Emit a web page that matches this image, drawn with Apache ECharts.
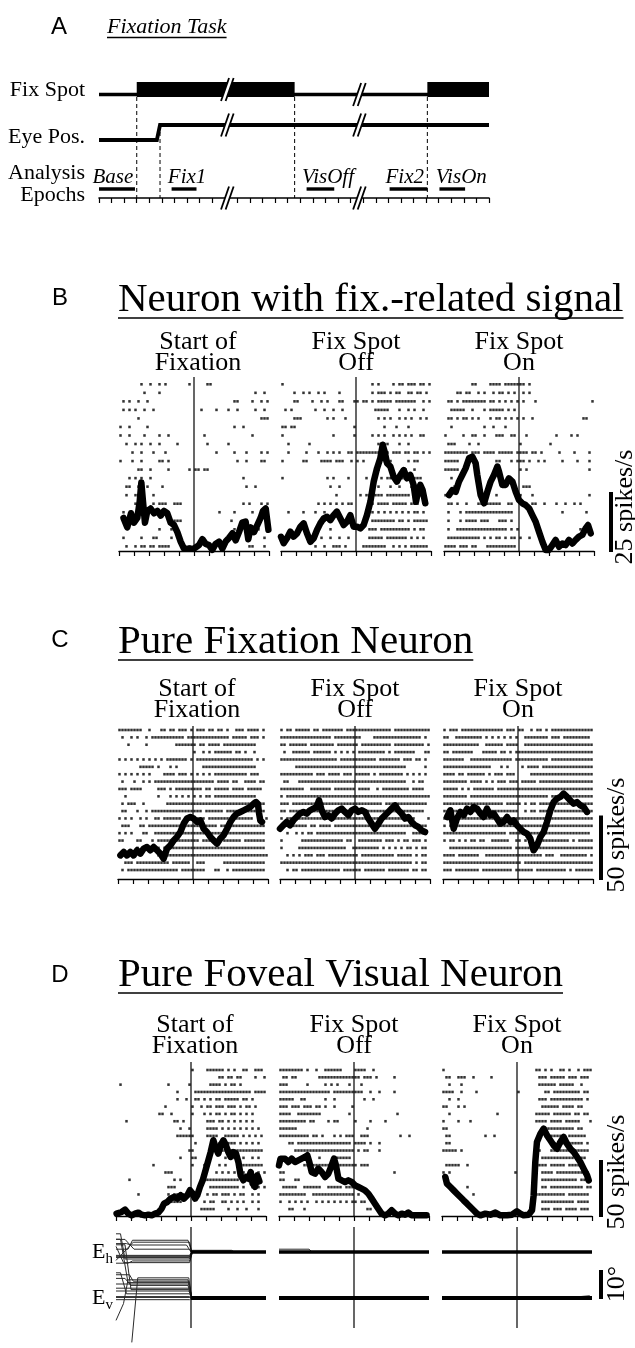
<!DOCTYPE html>
<html><head><meta charset="utf-8">
<script src="https://cdn.jsdelivr.net/npm/echarts@6/dist/echarts.min.js"></script>
<style>html,body{margin:0;padding:0;background:#fff}#c{width:635px;height:1348px}</style>
</head><body><div id="c"></div>
<script>
// ================= DATA =================
// Panel A : schematic of the fixation task (time in tick units)
const taskSpan = [0, 31];
const fixSpotOn = [[3, 15.55], [26.1, 31]];
const eyePos = [[0, 0], [4.6, 0], [4.85, 1], [31, 1]];
const epochNames = ['Base', 'Fix1', 'VisOff', 'Fix2', 'VisOn'];
const epochStart = [0, 5.77, 16.5, 23.1, 27.06];
const epochEnd = [2.86, 7.75, 18.7, 26.1, 29.1];
const epochLabelAt = [1.1, 7.0, 18.2, 24.3, 28.8];
const eventMarks = [3, 4.85, 15.55, 26.1];
const eventSource = ['spot', 'eye', 'spot', 'spot'];
const axisBreaks = [10.2, 20.7];
const rowLabels = ['Fix Spot', 'Eye Pos.', 'Analysis', 'Epochs'];

// Alignment titles
const alignTitles = ['Start of\nFixation', 'Fix Spot\nOff', 'Fix Spot\nOn'];
const sectionTitles = ['Neuron with fix.-related signal', 'Pure Fixation Neuron', 'Pure Foveal Visual Neuron'];
const sectionLetters = ['B', 'C', 'D'];
const rateScale = [25, 50, 50];      // spikes/s scale bars
const eyeScale = 10;                 // degrees
const timeTicks = [-500, 500, 100];  // ms: min, max, step

// Rasters: one string per trial, each char = 20 ms bin from -500 to +500 ms ('x' = spike)
const rasterB1 = [
".......x.. x..x.x.... ...x.....x x......... ..........",
"........x. ...x...... .......... .......... .....x..x.",
".x.x..x..x .......... .......... ........xx ....x..x.x",
".x.x.x..x. .x........ .......x.. ..x...x..x .....x..x.",
"......x... .......... .......... .......... .......xxx",
"x..x.....x .......... .......... ........x. .x........",
"x..x....x. ...x..x... ........x. .......... ....x.....",
"..x..x.x.. x..x.....x .........x ......x... ..........",
"....x..x.. .x...x.... .......... ..x.....x. ..x....x.x",
"x...x..x.. ...xx.x... .......... .........x ..x....xx.",
"......xx.. x.....x... ...x.xx.xx .......... ..........",
"...x.x.x.. x......... .......... .......... .x........",
"..xx..x..x ....x..... .......... .......... ..x..x....",
"..x..x.... .x........ .......... .......... ..........",
".....x.x.. .x.xxx..xx x......... .......... .x.x...x.x",
".x........ .......... .......... ...x....x. ....x....x",
".x.x...... ........xx x......... .......x.. ..........",
".......... ...x...x.. .......... ........x. ......x...",
".x.....x.. .xx....x.. .......... .......xx. ...x....x.",
"..x..x.xx. xx.xxxx... ...x..x... .......... ...xx...x."];
const rasterB2 = [
"x......... .......... .......... x.x....x.x x.xxx.xx.x",
"....x..x.x ..x.x....x .......... x.xxx.x.xx ..xx.xx.x.",
"....xx.... x..x.x...x x...xx.xx. x.xxxxx.xx xxxxx..x.x",
".x.x...... .x..x..x.. x......... .xxxxx...x ..x.x..x..",
"....xxx... .....x.x.. .x........ ..x.x.x..x .x.x..x.x.",
"xx.xx..... .......... ....x..... ....x...x. ..x.......",
"x......... .......x.. ....x..... x.x.x..x.x .x.x..xx..",
"..x......x .......... .......... ..xxxx...x ..x.......",
"..x.....x. ..x..x.x.x ..xx.xxxxx xxxxxx.xxx .xx.xx.x.x",
"x......xx. ...xxxx.xx x..x.x.x.. ....x.x... ..x.xx....",
".......... .......... .......... ..x....... .x..x.....",
"x......... .....x.x.. ..x.....x. ...x.xx.xx xxxxxxx...",
".......... ......x..x .......... ..x...x..x ...x.x....",
".......... ........x. ......x.xx xxxx.xxxxx xxx.xxx...",
".......... ..x.x.x.x. x.xx...... x.xxxx.xxx xx.xxx....",
"..x....x.. .x..x..... .......... x.x.x.x.x. x.x.xx.x..",
".......... ....x.x... .......... xxxxxxxx.x x.x.xxxxx.",
".......... ......x... ......x..x xx.xxxxxxx xxx.x.xx..",
".......... ...x..x..x ..x......x xxxx.xxxxx xx.x.x.x..",
".......... .x..x..xxx .x.....xxx xxxxx..x.x .x.xxxxxx."];
const rasterB3 = [
".........x x....xxxx. xxxxxxx.x. .......... ..........",
"....xx.xx. .x.x..x.xx .x.x..x.x. .......... ..........",
".xx.x.xxxx xxxx.xx.x. x.x.x.x... x......... .........x",
"..xxxxx..x ...x.xxxxx .x.x...... .......... ..........",
".xx.x.xx.x .x...x.xx. x.x.x.x..x .......... ......xx..",
"..x....... ...x..x... x......... .......... ..........",
"x.....x..x x..x...xxx ..xx...x.. .......x.. ..x.x.....",
".xxx....x. .x........ .....x.... .....x.... ..........",
"xxxxxxxx.x xx.xxxx.xx xxx.xxxx.x x.x.....x. ...x....x.",
"xxxxx..... .......xx. ..x.xxx.x. .x.x.....x ....x...x.",
"xxxxx..... ........x. .....x.x.. .......... ........x.",
"..x....... ........x. .......... .......... ..........",
"...x...... .......... ......xxx. .......... ..........",
"x......... .......x.. .....x...x .......... ........x.",
".xx.x..x.. .xxxxxxxx. .xx......x x..x...x.. x..x.x....",
".x...x.xxx xxxxxxxxxx xxx....... .........x .......x..",
".x...x.xxx x.xxx...xx x.x....... .......... ..........",
".x..xxxxxx xxxxxxxxxx x.x.x..... .......... .....x....",
".xxxxxxxxx xx.x.x.xx. x.xx.x..x. .......... ..........",
"xxxx.xxx.x x...xxxxxx xxxx...... .......... .........."];
const rasterC1 = [
"xxxxxxxx.. x...xx.xx. xxx.x.xxx. xx.xx.x..x xx.xxxx.x.",
".x..x.x..x .xxxxxxxxx xx.xxxxxxx xxxxxxx.xx xxx.xxx.x.",
"...x.....x .........x xxxxxx.xx. xxxx.xxxxx xxxxxx....",
".......... .......... .....x..x. x.xxxxxx.x x.x..x....",
"x.x.x.x.x. x.x.x.xxxx xxx.x.xxxx xxxxxxxxxx xxxxx.x.x.",
".......xxx xx.x...x.x ........xx xxxxxxxxxx xxxxxx....",
"x.x.x.x.x. x....xxxx. xxx.x.x.x. x.xxxxxxxx xxx.xxx...",
".x...x..x. x.xxxxxxxx xxxxxxxxxx xx.xxxx.xx ..xxxx.xx.",
"xxx.xxxx.. ...xxx.x.x xxxxxxxx.x x.xxxxx.xx xx.xxxxx..",
"..x....... ...x...x.x .x.x.x.x.x x.xxxxxxxx xxxxxx....",
".x.xxx..x. ......xxxx xxxxxxxxxx xxxxxxxxxx xxxxxxxxx.",
".xx...x..x .xxxxxxxxx xxxxxxxx.x xxxxx.xxxx xxxxxxxxx.",
"x.x.x..x.x ..xx.xxxxx x.xxxxxxx. xxxxxxxxxx xxxxx..x.x",
".xxx...xx. xxxxxxxxxx xxxxxxxxxx xxx.xxxxxx xxxxxxxxx.",
"x.x.x...xx ..xxxxxxxx xxxxxxxxxx xxxxxxxxxx xxxxxxxxx.",
"xx....xx.. .x.xxxxxxx xxxxxxx.xx xxxx.xxxxx x.xxxxxxx.",
"......x..x x..x.xxxxx xxxxxxxxxx xxxxxxxxxx xxxxxxxxx.",
".......... ...x..xxxx xxxxxxxxxx xxxxxxxxxx xxxxxxxxxx",
"..xxx.xxxx xxxxxxx.xx xxxx..xxx. .....xxxxx xxxxxxxxx.",
".x.xxxxxxx xxxxxxxxxx .xxxxxxxx. ..xx..x.xx xxxxxxxxx."];
const rasterC2 = [
"x.xx.xxxxx .xx.xxxxxx x.xxxxxxxx xxxxxxx.xx xxxxxxxxxx",
"xxxxxxxxxx xxxxxxx.xx xxxxxxx... .xxxxxxxxx xxxxxxx.x.",
"xx.xxxxxx. xxxxxxxx.x xxxxxx.xxx xxxxxxx.xx xxxxxxxx.x",
".x..xxxxxx .xxxxxx.x. x.x.x.xxxx xxxxx.x.xx xxxxx...xx",
"xxxxxxxxxx xxxxxxxxx. xxxxxxxxxx xx.xxxxxxx .xxx.xx.x.",
".....xxxxx xxxxxxxxxx xxxxxxxxxx xxxxxxxxxx xx......x.",
"xxxxxxxxxx x.xxx.xxxx .xxx.xxxxx .x.xxxxxxx x.x.x.x.x.",
".xx...xxxx xxxxxxxxxx xxxxxxxxxx xxxxxxxxxx xx..x.xx..",
"xxxxxxxx.. xxxxxxx.xx xxxxx.xxxx ..x.xxxxxx xxx.xxxx..",
"x.xxxxxxxx xxxxxxxxxx xxxxxxxxxx xxxxxxxxxx xxxxxxxxxx",
"xxx.xxxxxx xxxxxxxxxx xxxxxxxxxx xxxx.xxxxx xxxxxxxxx.",
"xx.xxxxxxx xxxxxxxxxx xxx.xxxxxx xxxxxxxxxx xxxxxxxx..",
"x.xxxxxxxx xxxxxxxxxx xxxxxxxxxx xxxxxxxxxx xxxxx....x",
".x.xxxxxx. xx.xxxx.xx xxxxxxxxxx xxxxxxxxxx xxxxxxxxx.",
"..x..x.x.x x.xxxxxxxx xxxxxxxxxx xxxxxxxxxx xx..xxxxx.",
"x......xxx xxxxxxxxxx x.xx..xxxx xxxx.xxx.x .xx.xxx.x.",
"x.....xxxx xxxxxxxxxx xx..xxxxxx xxx.x.x.x. x.xx.x.xx.",
"..x.x.x.xx x.xxx.xxxx xxxxxx.xxx xxxxxxxx.x xxxx.x.xx.",
"xxxxxxxxxx xxxxxxxxxx xxxxxxxxxx xxxxxxxxxx xxxx.x.xx.",
"..x.xx.xxx xxxxxxxxxx .xxxxxx.xx xxxxx.xxxx xxx.xx.xx."];
const rasterC3 = [
"x.xxx.xxxx xxxxxxxxxx .xxx.xx..x .xx.x.xxxx xxxxxxxxxx",
"xx..xxxxxx xxx.x.x.x. x.x.x..xxx xxxxx.xxx. xxxxxxxxx.",
"xxxxxxxxxx xx..xxxxxx .xxxx..xxx xxxxxxxxxx xxxxxxxxxx",
"xx.xxxxxxx ...xxxxx.x x.x.xxxxxx xxxxxxxxxx xxxxxxxxxx",
"xxxxxxx..x xxxxxxxxxx xxx.xxxxxx xxxxx.xxxx xxxxxxxxxx",
"xxxxxxxxxx xxxxxx...x .x....x.xx xx.xxxxxxx xxxxxxxxxx",
"xxxx.xx.xx xxxx.x.xxx .xxx.....x xxxxxxxxxx xxxxxxxxxx",
"xxxxxxxx.x xxx.x.x.xx x.xxx.xxxx x.xxxxxxxx xxxxxxxxxx",
"xxxxx.x.x. xxxxxxx.xx xxxxxxxxxx xxxxxxxxxx xxxxxxxxxx",
"xxxxxxxx.x xxxxxxxxxx xxxxxxxxxx xxxxx.xx.x xxxxxxxxxx",
"xxxxxxxxxx xxxxxxxxxx .xxxxx.x.x x.xxxx.xxx xxxxxxxxxx",
"xxxxxxxxx. xxxxxxxxxx xxxxx..x.x x.xxxx.xxx xxxxxxxxxx",
"xxx.xxxxxx xxxxxxxxxx xxxxxxxxxx xxxxxxxxxx xxxxxxxxxx",
"x.xxxxxxxx xxxxxxxxxx xxxxxxxxxx xxxx.xxxxx xxxxxxxxxx",
"xxxxxxxxxx xxxxxxxxxx x.xxxxxxxx xxxxxxxxxx xxxxxxxxx.",
"x.xx.x.x.x x.xx..xxxx xx..xx.x.. .xxxxxxxxx xx.x.xxxxx",
"..xxxxxxxx xxxxxxxxxx xxx.xxxxxx ..xxxxxxxx xxxxxxxxxx",
"xxxx.xxxxx xx..xxxxxx xxxxxxxxxx xxx.xxx..x xxxxxxxx.x",
"xxxxxxxxxx xxxxxxxxxx xxxxxx.xxx xxxxxxxxxx xxxxxxxxxx",
"xxx.xxxxxx xx.xxxxxxx xxx.xxxxxx .xxxxxxxxx x.x.xxxxxx"];
const rasterD1 = [
".......... .......... .....x.... xxxxxx.x.x ..xx..xxx.",
".......... .......... .......... ....xx.xx. xx....x..x",
".x........ .......x.. ....x..... .xxxx.x.xx .x........",
".......... .......... x.....xxxx xxxxxxxxxx xxxxx.xxxx",
".......... .......... x..x..xx.x .x.xx.xxxx x.xx.x....",
".......... ......x... .....x..x. xx.xxx.xxx .x.xx.x...",
".......... ....xx..x. .....x...x .x.xx.x.xx .x.x.x....",
"...x...... .........x x.x....... xxx.xx.x.x .x.x.x....",
".......... .......... .x..x..... xxxx.x.x.x .x.x.x.x..",
".......... .......... xxxxxx.... xxxx..xxxx x.x.x.x.x.",
".......... .......... ......x... ....xx.xxx .x.x.x.x..",
".......... .......... ....xx.... .....xxxxx xxxxxxxxx.",
".......... .......... .x...xx... .x....x.xx ..x..x.x..",
".......... ..x....... .....x...x ....x.x... xxxxxxxxx.",
".......... ......xxx. .........x ...x.x.x.x .xx..x.x.x",
"....x..... .........x .x........ xxxxxxxxxx x......x..",
".......... .......xxx .......... .xxxxxxxxx x.x..x.x.x",
".......x.. .......x.x xxx....... x.xx.xxx.x .xx..x.x..",
".......... ......xxxx xx.......x .xx..xx.x. x.x..x.x..",
".......... .......... ........xx xxx....x.. x..x...x.."];
const rasterD2 = [
"xxxxxxxx.x ..x..xxxxx x....xxxx. .x........ ..........",
".xx.xx.... ...xxxxxxx xxxxxxx.xx x.x.....x. ..........",
"xxx......x .....x.x.x ...x...x.. .......... ..........",
"xxxxxxxxxx xxxxxxx.xx xxxxxxxx.. x..x....x. ..........",
"xxxxx..xx. .....x..x. ........x. .x........ ..........",
"xxx.xxx.xx x.xx.x..x. ....x..... .......... ..........",
"xxxx..xxxx xxxx...... ...x...... .........x ..........",
"xxxxxxxxx. xx....x.xx .....x.... x....x.... ..........",
"xxxxxx.... .......... .........x .......... ..........",
"xxxxxxxxxx .xx.x...x. x.xxx..xxx .......... x..x......",
"...xx.xxxx xxxxxxxxxx xxxx.xxxx. x..x...... ..........",
".....xxxxx xxxxxxxxxx xxxxx.x.xx ...x...... ..........",
"xx........ ...x.....x xxxx...... .......... ..........",
"........xx xxxxxxxxxx xxxxxx.xxx .......... ..........",
"xx........ .......... .......... ........x. ..........",
"xx...xx... .........x xx........ .......... ..........",
".xxxxx..xx xxxx..xxxx x.xxx..... .......... ..........",
"xxxxxxxxx. .xxxxxxxxx xxxxx.x... .......... ..........",
"x..x.x.x.x ..x.x.x.x. x.x.xx.xx. .......... ..........",
"...xx...x. .......... .........x x......... .........."];
const rasterD3 = [
"x......... .......... .......... .xx.x.x..x x.x..x.xxx",
".xx..xxx.. x.....x... .......... ..xxx.xxxx x.xxx.xxx.",
"..x...x... .......... .......... ..xxxxxx.x xxxx..x...",
"xxxx..x... .x........ .....x.... ....xx.xxx xxxxxx.xx.",
"..x..x.... .......... .......... ..xxx.xxxx xxxxxxx.x.",
"xx...x.x.. .......... .......... ...xxxxxx. xxxx.xx...",
"..x....... ........x. .......... .xxxxx.xxx xxx.xx.xx.",
"x....x...x .......... .......... .xxxx.xxxx .xxxxx...x",
"xx........ .......... .......... ....xxxxxx xxxx.xx...",
".xx....... ....x..x.. .......... ......xxxx x.xxxxxx..",
".xx....... .......... .......... ......xx.x xxxxxxx.x.",
"xxxxx.x... .......... .......... ..x...xxxx xxx.xxxxx.",
".......... .......... .......... ...xxxxxxx xxxx.xxx..",
".xxxxx..x. .......... .......... .xxxx.xxxx x.xxxxx...",
"x.x....... .......... ....x..... ...xxxx.xx xxxxxxxxx.",
".......... .......... .......... ...xxxxxxx xxxxx.xxx.",
"........x. .......... .......... ...xx.xxxx xxxxxxx.xx",
".......... x......... .......... .xxxxxxxxx x.xxxxxxx.",
".......... .......... .......... ...xxxxxxx xxxx.xxxx.",
".......... .......... .......... ...xxx.xxx .xxxx.xxx."];

// Spike density (ms, spikes/s)
const rateB1 = [[-470,14],[-445,10],[-420,16],[-400,12],[-378,14],[-362,21],[-351,29],[-340,21],[-327,12],[-311,17],[-289,18],[-267,16],[-244,17],[-222,15],[-200,17],[-178,16],[-156,12],[-133,11],[-111,8],[-89,4],[-67,1],[-33,1],[0,1],[33,2.5],[56,5],[78,3],[100,2.5],[122,0.5],[144,3],[167,4],[189,1],[211,4],[233,5.5],[256,7.5],[278,4.5],[300,8],[322,12],[344,12.5],[362,5],[378,10],[400,8],[422,11],[444,14],[460,17],[478,18],[496,9]];
const rateB2 = [[-500,6],[-482,3.3],[-460,5.4],[-438,8.2],[-416,6.1],[-393,7.5],[-371,10.3],[-349,11.7],[-327,7.5],[-304,3.9],[-282,5.4],[-260,8.9],[-238,11.7],[-216,13.8],[-193,14.5],[-171,13.1],[-149,15.2],[-127,16.7],[-104,13.8],[-82,11],[-60,12.4],[-38,15.2],[-16,10.3],[7,10.3],[29,9.6],[51,11],[73,15.2],[96,20.9],[118,29.4],[140,35],[162,39.3],[178,45],[191,42.1],[207,37.2],[229,35.8],[251,31.5],[273,29.4],[296,32.2],[318,34.3],[340,30.8],[362,32.2],[384,28],[400,20.9],[413,25.1],[429,28],[444,25.8],[462,20.2]];
const rateB3 = [[-467,23.7],[-444,25.8],[-422,25.1],[-400,29.4],[-378,32.2],[-356,35],[-333,39.3],[-311,40],[-289,37.2],[-278,32.2],[-256,23.7],[-233,20.2],[-211,25.1],[-189,29.4],[-167,32.2],[-144,35.8],[-133,33.6],[-111,28],[-89,28],[-67,30.8],[-44,29.4],[-22,25.1],[0,21.6],[22,20.2],[44,19.5],[67,18.1],[89,15.2],[111,12.4],[133,8.2],[156,3.9],[178,0.4],[200,0.4],[222,2.5],[244,4.7],[267,1.8],[289,3.2],[311,2.5],[333,4.7],[356,3.2],[378,4.7],[400,6.1],[422,6.8],[444,9.6],[460,11],[478,7.5]];
const rateC1 = [[-484,18.6],[-462,21.3],[-440,18.6],[-418,21.3],[-396,18.6],[-373,22.6],[-351,20],[-329,23.9],[-307,25.2],[-284,22.6],[-262,25.2],[-240,22.6],[-218,20],[-196,16],[-173,23.9],[-151,26.5],[-129,30.4],[-107,33.1],[-84,37],[-62,43.6],[-40,47.6],[-18,48.8],[4,47.6],[27,44.9],[49,46.2],[71,39.6],[93,37],[116,33.1],[138,30.4],[160,27.8],[182,31.8],[204,34.4],[227,39.6],[249,44.9],[271,48.8],[293,51.5],[316,52.8],[338,54.1],[360,55.4],[382,56.7],[404,59.3],[420,60.6],[433,59],[440,52],[449,46],[460,44.9]];
const rateC2 = [[-500,39.6],[-478,42.3],[-456,44.9],[-433,42.3],[-411,46.2],[-389,48.8],[-367,51.5],[-344,52.8],[-322,51.5],[-300,54.1],[-278,55.4],[-256,56.7],[-240,61.9],[-222,54.1],[-200,48.8],[-178,50.2],[-156,47.6],[-133,51.5],[-111,54.1],[-89,55.4],[-67,52.8],[-44,50.2],[-22,54.1],[0,55.4],[22,52.8],[44,54.1],[67,52.8],[89,47.6],[111,43.6],[133,39.6],[156,43.6],[178,47.6],[200,50.2],[222,52.8],[244,55.4],[267,58],[289,54.1],[311,51.5],[333,47.6],[356,48.8],[378,44.9],[400,42.3],[422,41],[444,38.3],[467,37]];
const rateC3 = [[-473,48.8],[-451,54.1],[-429,39.6],[-407,47.6],[-384,52.8],[-362,50.2],[-340,55.4],[-318,52.8],[-296,56.7],[-273,55.4],[-251,51.5],[-229,48.8],[-207,55.4],[-184,50.2],[-162,51.5],[-140,47.6],[-118,43.6],[-96,44.9],[-73,48.8],[-51,44.9],[-29,46.2],[-7,42.3],[16,39.6],[38,37],[60,35.7],[82,31.8],[104,22.6],[127,26.5],[149,33.1],[171,37],[193,44.9],[216,54.1],[238,60.6],[260,63.3],[282,64.6],[304,67.2],[327,64.6],[349,61.9],[371,59.3],[393,60.6],[416,58],[438,56.7],[460,52.8]];
const rateD1 = [[-496,2.1],[-462,3.6],[-440,5.7],[-418,2.1],[-396,0.6],[-373,2.1],[-351,3],[-329,1.2],[-307,0.6],[-284,1.2],[-262,0.6],[-240,2.1],[-218,3],[-196,6.5],[-180,11],[-158,12.5],[-136,15.5],[-113,17],[-91,15.5],[-69,18.5],[-47,15.5],[-24,18.5],[-7,23],[11,20],[27,15.5],[42,18.5],[60,26],[78,31.9],[100,42.3],[116,49.8],[131,57.1],[149,67.6],[167,60.1],[182,55.7],[198,63.1],[216,67.6],[233,63.1],[249,57.1],[264,52.7],[282,57.1],[300,55.7],[316,48.2],[331,36.3],[349,31.9],[367,34.8],[382,33.3],[398,39.3],[411,28.9],[427,26],[442,36.3],[456,31]];
const rateD2 = [[-500,45.2],[-490,51.2],[-482,52.7],[-460,51.2],[-438,48.2],[-416,51.2],[-393,48.2],[-371,49.7],[-349,51.2],[-327,52.7],[-311,54.2],[-298,48.2],[-282,39.3],[-260,37.8],[-238,42.3],[-216,39.3],[-193,34.8],[-171,37.8],[-149,45.2],[-133,51.2],[-120,45.2],[-104,33.3],[-82,31.8],[-60,30.4],[-38,31.8],[-16,30.4],[7,27.4],[29,25.9],[51,24.4],[73,22.9],[96,19.9],[118,15.5],[140,11],[162,6.5],[184,2.1],[207,0.6],[229,2.1],[251,5.1],[273,2.1],[296,0.6],[318,2.1],[340,1.2],[362,3],[384,0.6],[418,0.6],[484,0.6]];
const rateD3 = [[-478,34.8],[-467,28.9],[-444,25.9],[-422,22.9],[-400,19.9],[-378,17],[-356,14],[-333,11],[-311,8],[-289,5.1],[-267,2.1],[-244,0.6],[-211,2.1],[-178,1.2],[-144,3],[-111,0.6],[-67,0.6],[-33,1.2],[0,4.2],[22,2.1],[44,0.6],[78,1.2],[100,5.1],[111,18.5],[122,48.2],[133,66.1],[156,73.5],[178,78],[200,72],[222,67.6],[244,63.1],[267,60.1],[289,66.1],[311,70.5],[333,64.6],[356,60.1],[378,57.1],[400,52.7],[422,48.2],[444,42.3],[467,36.3],[478,31.8]];

// Eye position traces for panel D (ms, degrees relative to the fixation spot)
const eyeD1h = [
 [[-500,-1.5],[-8,-1.5],[8,0],[500,0]],
 [[-500,-1.2],[-10,-1.2],[6,0],[500,0]],
 [[-500,-2],[-15,-2],[5,0],[500,0]],
 [[-500,-1.8],[-6,-1.8],[8,0.6],[270,0.6],[290,0],[500,0]],
 [[-500,1],[-420,1],[-390,4.2],[-20,4.2],[5,0],[500,0]],
 [[-500,3],[-430,3],[-400,2.5],[-30,2.5],[0,0],[500,0]],
 [[-500,-4],[-420,-4],[-390,-3.2],[-10,-3.2],[10,0],[500,0]],
 [[-500,2],[-450,-3.8],[-10,-3.8],[10,0],[500,0]],
 [[-500,4.5],[-440,4.5],[-380,1],[-10,1],[5,0],[500,0]],
 [[-500,-3],[-385,3.5],[-10,3.5],[5,0],[500,0]],
 [[-500,6.5],[-470,6.5],[-440,-2.5],[-12,-2.5],[6,0],[500,0]]];
const eyeD1v = [
 [[-500,0.5],[-10,0.5],[5,0],[500,0]],
 [[-500,-0.6],[-10,-0.6],[5,0],[500,0]],
 [[-500,0.2],[-12,0.2],[5,0],[500,0]],
 [[-500,8.3],[-410,8.3],[-385,6],[-15,6],[5,0],[500,0]],
 [[-500,5],[-15,5],[5,0],[500,0]],
 [[-500,3.5],[-15,3.5],[5,0],[500,0]],
 [[-500,2.5],[-15,2.5],[10,0],[500,0]],
 [[-500,7],[-440,7],[-400,4.5],[-20,4.5],[5,0],[500,0]],
 [[-395,-16],[-355,7.2],[-15,7.2],[5,0],[500,0]],
 [[-500,-8],[-450,-2],[-420,6.5],[-20,6.5],[5,0],[500,0]],
 [[-500,9],[-470,9],[-430,1.5],[-10,1.5],[5,0],[500,0]],
 [[-500,19],[-440,19],[-400,3],[-15,3],[5,0],[500,0]],
 [[-500,21],[-470,21],[-420,5.5],[-15,5.5],[5,0],[500,0]]];
const eyeD2h = [[[-500,1],[-300,1],[-280,0]]];
const eyeD2v = [];
const eyeD3h = [];
const eyeD3v = [[[250,0],[420,0.5],[485,0.8]]];
const eyeFixSpan = [[0, 500], [-500, 500], [-500, 500]];   // ms where all trials sit on the spot

// ================= LAYOUT / STYLE =================
const SERIF = "'Liberation Serif','Times New Roman',serif";
const SANS = "'Liberation Sans',Arial,sans-serif";
const HALF = 75; // half panel width px
const sections = [
 {top:377, bottom:551, rowFirst:384.3, rowStep:8.53, pxPerRate:2.36, centers:[194,356,519], subY:352.5, titleY:300, ulY:318, letterY:298, barX:611, barTextX:625,
  rasters:[rasterB1,rasterB2,rasterB3], rates:[rateB1,rateB2,rateB3]},
 {top:726, bottom:879, rowFirst:730, rowStep:7.37, pxPerRate:1.27, centers:[193,355,518], subY:699.5, titleY:642, ulY:660, letterY:640, barX:601, barTextX:617,
  rasters:[rasterC1,rasterC2,rasterC3], rates:[rateC1,rateC2,rateC3]},
 {top:1062, bottom:1216, rowFirst:1070, rowStep:7.32, pxPerRate:1.12, centers:[191,354,517], subY:1036, titleY:975, ulY:993, letterY:975, barX:601, barTextX:617,
  rasters:[rasterD1,rasterD2,rasterD3], rates:[rateD1,rateD2,rateD3]}
];
const eyeLayout = {top:1227, bottom:1342, fixV:1298, fixH:1252, pxPerDeg:2.8, lineTop:1227, lineBottom:1328};
const eyeSets = [[eyeD1h, eyeD1v], [eyeD2h, eyeD2v], [eyeD3h, eyeD3v]];

// Panel A levels (px above the epoch axis line)
const A = {left:99, width:390, axisY:198, height:128};
const LV = {spotLine:103.5, barLo:101, barHi:116, eyeLow:58, eyeHigh:73, epochBar:9, epochLabel:21};

// ================= BUILD =================
const measureCtx = document.createElement('canvas').getContext('2d');
function textW(t, font){ measureCtx.font = font; return measureCtx.measureText(t).width; }

const grids = [], xAxes = [], yAxes = [], series = [], graphics = [];
function addText(txt, x, y, font, align, vAlign, lineHeight){
  const st = {text:txt, font:font, fill:'#000', align:align||'left', verticalAlign:vAlign||'middle', textAlign:align||'left', textVerticalAlign:vAlign||'middle'};
  if (lineHeight) st.lineHeight = lineHeight;
  graphics.push({type:'text', x:x, y:y, silent:true, style:st});
}
function addLine(x1,y1,x2,y2,w){
  graphics.push({type:'line', silent:true, shape:{x1,y1,x2,y2}, style:{stroke:'#000', lineWidth:w}});
}

// ---- Panel A ----
grids.push({left:A.left, top:A.axisY - A.height, width:A.width, height:A.height});
xAxes.push({gridIndex:0, type:'value', min:taskSpan[0], max:taskSpan[1], interval:1,
  axisLine:{onZero:false, lineStyle:{color:'#000', width:1.6}},
  axisTick:{length:5, lineStyle:{color:'#000', width:1.2}}, axisLabel:{show:false}, splitLine:{show:false}});
yAxes.push({gridIndex:0, type:'value', min:0, max:A.height, show:false});

series.push({type:'line', xAxisIndex:0, yAxisIndex:0, symbol:'none', silent:true,
  data:[[taskSpan[0], LV.spotLine],[taskSpan[1], LV.spotLine]], lineStyle:{color:'#000', width:3.6}});
series.push({type:'custom', xAxisIndex:0, yAxisIndex:0, silent:true, z:3, data:fixSpotOn,
  renderItem:(p, api)=>{ const a = api.coord([api.value(0), LV.barHi]), b = api.coord([api.value(1), LV.barLo]);
    return {type:'rect', shape:{x:a[0], y:a[1], width:b[0]-a[0], height:b[1]-a[1]}, style:{fill:'#000'}}; }});
series.push({type:'line', xAxisIndex:0, yAxisIndex:0, symbol:'none', silent:true,
  data:eyePos.map(d=>[d[0], LV.eyeLow + d[1]*(LV.eyeHigh-LV.eyeLow)]), lineStyle:{color:'#000', width:3.8, join:'miter'}});
series.push({type:'custom', xAxisIndex:0, yAxisIndex:0, silent:true, z:2,
  data:eventMarks.map((m,i)=>[m, eventSource[i]==='spot' ? LV.barLo : LV.eyeHigh-7]),
  renderItem:(p, api)=>{ const a = api.coord([api.value(0), api.value(1)]), b = api.coord([api.value(0), 0]);
    return {type:'line', shape:{x1:a[0], y1:a[1], x2:b[0], y2:b[1]}, style:{stroke:'#000', lineWidth:1, lineDash:[4,3]}}; }});
series.push({type:'custom', xAxisIndex:0, yAxisIndex:0, silent:true, z:4,
  data:epochNames.map((n,i)=>[epochStart[i], epochEnd[i], epochLabelAt[i]]),
  renderItem:(p, api)=>{ const a = api.coord([api.value(0), LV.epochBar]), b = api.coord([api.value(1), LV.epochBar]);
    const l = api.coord([api.value(2), LV.epochLabel]);
    return {type:'group', children:[
      {type:'line', shape:{x1:a[0], y1:a[1], x2:b[0], y2:b[1]}, style:{stroke:'#000', lineWidth:3.4}},
      {type:'text', x:l[0], y:l[1], style:{text:epochNames[p.dataIndex], font:'italic 21px '+SERIF, fill:'#000', align:'center', verticalAlign:'middle', textAlign:'center', textVerticalAlign:'middle'}}]}; }});
function spotLevelAt(x){ for (const s of fixSpotOn) if (x>=s[0] && x<=s[1]) return (LV.barLo+LV.barHi)/2; return LV.spotLine; }
function eyeLevelAt(x){ let s = 0; for (const d of eyePos) if (d[0] <= x) s = d[1]; return LV.eyeLow + s*(LV.eyeHigh-LV.eyeLow); }
series.push({type:'custom', xAxisIndex:0, yAxisIndex:0, silent:true, z:10, data:axisBreaks.map(b=>[b, 0]),
  renderItem:(p, api)=>{ const bx = api.value(0); const kids = [];
    [spotLevelAt(bx), eyeLevelAt(bx), 0].forEach(lv=>{
      const c = api.coord([bx, lv]); const h = 11.5, dx = 4, g = 2.3;
      kids.push({type:'polygon', shape:{points:[[c[0]+dx-g,c[1]-h],[c[0]+dx+g,c[1]-h],[c[0]-dx+g,c[1]+h],[c[0]-dx-g,c[1]+h]]}, style:{fill:'#fff'}});
      kids.push({type:'line', shape:{x1:c[0]+dx-g, y1:c[1]-h, x2:c[0]-dx-g, y2:c[1]+h}, style:{stroke:'#000', lineWidth:1.8}});
      kids.push({type:'line', shape:{x1:c[0]+dx+g, y1:c[1]-h, x2:c[0]-dx+g, y2:c[1]+h}, style:{stroke:'#000', lineWidth:1.8}});
    });
    return {type:'group', children:kids}; }});

// Panel A texts
addText('A', 59, 27, '24px '+SANS, 'center');
const ftFont = 'italic 22px '+SERIF;
addText('Fixation Task', 107, 27, ftFont, 'left');
addLine(107, 37.5, 107 + textW('Fixation Task', ftFont), 37.5, 1.3);
const rowY = [90, 137, 173, 195];
rowLabels.forEach((t,i)=>addText(t, 85, rowY[i], '22px '+SERIF, 'right'));

// ---- Panels B, C, D ----
let gi = 1;
sections.forEach((sec, si)=>{
  const H = sec.bottom - sec.top;
  const rateMax = H / sec.pxPerRate;
  const trialMin = -(sec.rowFirst - sec.top) / sec.rowStep;
  const trialMax = trialMin + H / sec.rowStep;
  // titles
  addText(sectionLetters[si], 60, sec.letterY, '24px '+SANS, 'center');
  const tFont = '41px '+SERIF;
  addText(sectionTitles[si], 118, sec.titleY, tFont, 'left');
  addLine(118, sec.ulY, 118 + textW(sectionTitles[si], tFont), sec.ulY, 1.6);
  sec.centers.forEach((c, pi)=>{
    addText(alignTitles[pi], c + (pi===0?4:0), sec.subY, '26px '+SERIF, 'center', 'middle', 21);
    grids.push({left:c-HALF, top:sec.top, width:2*HALF, height:H});
    xAxes.push({gridIndex:gi, type:'value', min:timeTicks[0], max:timeTicks[1], interval:timeTicks[2],
      axisLine:{onZero:false, lineStyle:{color:'#000', width:1.4}},
      axisTick:{length:5, lineStyle:{color:'#000', width:1.2}}, axisLabel:{show:false}, splitLine:{show:false}});
    const yRate = yAxes.length;
    yAxes.push({gridIndex:gi, type:'value', min:0, max:rateMax, show:false});
    const yTrial = yAxes.length;
    yAxes.push({gridIndex:gi, type:'value', min:trialMin, max:trialMax, inverse:true, show:false});
    const xi = xAxes.length - 1;
    // raster
    const pts = [];
    sec.rasters[pi].forEach((row, ti)=>{
      const r = row.replace(/ /g, '');
      for (let b = 0; b < 50 && b < r.length; b++) if (r[b] === 'x') pts.push([timeTicks[0] + 20*b + 10, ti]);
    });
    series.push({type:'scatter', xAxisIndex:xi, yAxisIndex:yTrial, data:pts, symbol:'rect', symbolSize:[2.5,2.6],
      itemStyle:{color:'#000'}, silent:true, z:1});
    // event line
    series.push({type:'line', xAxisIndex:xi, yAxisIndex:yRate, data:[[0,0],[0,rateMax]], symbol:'none', silent:true,
      lineStyle:{color:'#000', width:1.2}, z:2});
    // spike density
    series.push({type:'line', xAxisIndex:xi, yAxisIndex:yRate, data:sec.rates[pi], symbol:'none', silent:true,
      lineStyle:{color:'#000', width:6.5, join:'round', cap:'round'}, z:3});
    // scale bar
    if (pi === 2) {
      const barX = sec.barX, txtX = sec.barTextX, label = rateScale[si] + ' spikes/s';
      series.push({type:'custom', xAxisIndex:xi, yAxisIndex:yRate, silent:true, clip:false, z:5, data:[[timeTicks[1], rateScale[si]]],
        renderItem:(p, api)=>{ const a = api.coord([api.value(0), 0]), b = api.coord([api.value(0), api.value(1)]);
          const off = barX - a[0];
          return {type:'group', children:[
            {type:'line', shape:{x1:a[0]+off, y1:a[1]+1, x2:b[0]+off, y2:b[1]}, style:{stroke:'#000', lineWidth:4}},
            {type:'text', x:txtX, y:a[1]-44, rotation:Math.PI/2, style:{text:label, font:'26px '+SERIF, fill:'#000', align:'center', verticalAlign:'middle', textAlign:'center', textVerticalAlign:'middle'}}]}; }});
    }
    gi++;
    // eye traces under D
    if (si === 2) {
      const eH = eyeLayout.bottom - eyeLayout.top;
      const dMin = -(eyeLayout.bottom - eyeLayout.fixV) / eyeLayout.pxPerDeg;
      const dMax = dMin + eH / eyeLayout.pxPerDeg;
      const hOff = (eyeLayout.fixV - eyeLayout.fixH) / eyeLayout.pxPerDeg;
      grids.push({left:c-HALF, top:eyeLayout.top, width:2*HALF, height:eH});
      xAxes.push({gridIndex:gi, type:'value', min:timeTicks[0], max:timeTicks[1], show:false});
      yAxes.push({gridIndex:gi, type:'value', min:dMin, max:dMax, show:false});
      const exi = xAxes.length-1, eyi = yAxes.length-1;
      const lineLo = -(eyeLayout.lineBottom - eyeLayout.fixV) / eyeLayout.pxPerDeg;
      series.push({type:'line', xAxisIndex:exi, yAxisIndex:eyi, data:[[0,lineLo],[0,dMax]], symbol:'none', silent:true, lineStyle:{color:'#000', width:1.2}, z:2});
      const [hs, vs] = eyeSets[pi];
      hs.forEach(tr=>series.push({type:'line', xAxisIndex:exi, yAxisIndex:eyi, data:tr.map(d=>[d[0], d[1]+hOff]), symbol:'none', silent:true, lineStyle:{color:'#2a2a2a', width:1}, z:1}));
      vs.forEach(tr=>series.push({type:'line', xAxisIndex:exi, yAxisIndex:eyi, data:tr, symbol:'none', silent:true, lineStyle:{color:'#2a2a2a', width:1}, z:1}));
      const fs = eyeFixSpan[pi];
      series.push({type:'line', xAxisIndex:exi, yAxisIndex:eyi, data:[[fs[0],hOff],[fs[1],hOff]], symbol:'none', silent:true, lineStyle:{color:'#000', width:3.4}, z:3});
      series.push({type:'line', xAxisIndex:exi, yAxisIndex:eyi, data:[[fs[0],0],[fs[1],0]], symbol:'none', silent:true, lineStyle:{color:'#000', width:4.2}, z:3});
      if (pi === 2) {
        const barX = sec.barX, txtX = sec.barTextX;
        series.push({type:'custom', xAxisIndex:exi, yAxisIndex:eyi, silent:true, clip:false, z:5, data:[[timeTicks[1], eyeScale]],
          renderItem:(p, api)=>{ const a = api.coord([api.value(0), 0]), b = api.coord([api.value(0), api.value(1)]);
            const off = barX - a[0];
            return {type:'group', children:[
              {type:'line', shape:{x1:a[0]+off, y1:a[1]+1, x2:b[0]+off, y2:b[1]}, style:{stroke:'#000', lineWidth:4}},
              {type:'text', x:txtX, y:a[1]-14, rotation:Math.PI/2, style:{text:eyeScale + '°', font:'26px '+SERIF, fill:'#000', align:'center', verticalAlign:'middle', textAlign:'center', textVerticalAlign:'middle'}}]}; }});
      }
      if (pi === 0) {
        addText('E', 92, eyeLayout.fixH, '22px '+SERIF, 'left');
        addText('h', 105.5, eyeLayout.fixH + 7, '15px '+SERIF, 'left');
        addText('E', 92, eyeLayout.fixV, '22px '+SERIF, 'left');
        addText('v', 105.5, eyeLayout.fixV + 7, '15px '+SERIF, 'left');
      }
      gi++;
    }
  });
});

const chart = echarts.init(document.getElementById('c'), null, {renderer:'canvas', width:635, height:1348});
chart.setOption({animation:false, backgroundColor:'#fff', grid:grids, xAxis:xAxes, yAxis:yAxes, series:series, graphic:{elements:graphics}});
</script></body></html>
